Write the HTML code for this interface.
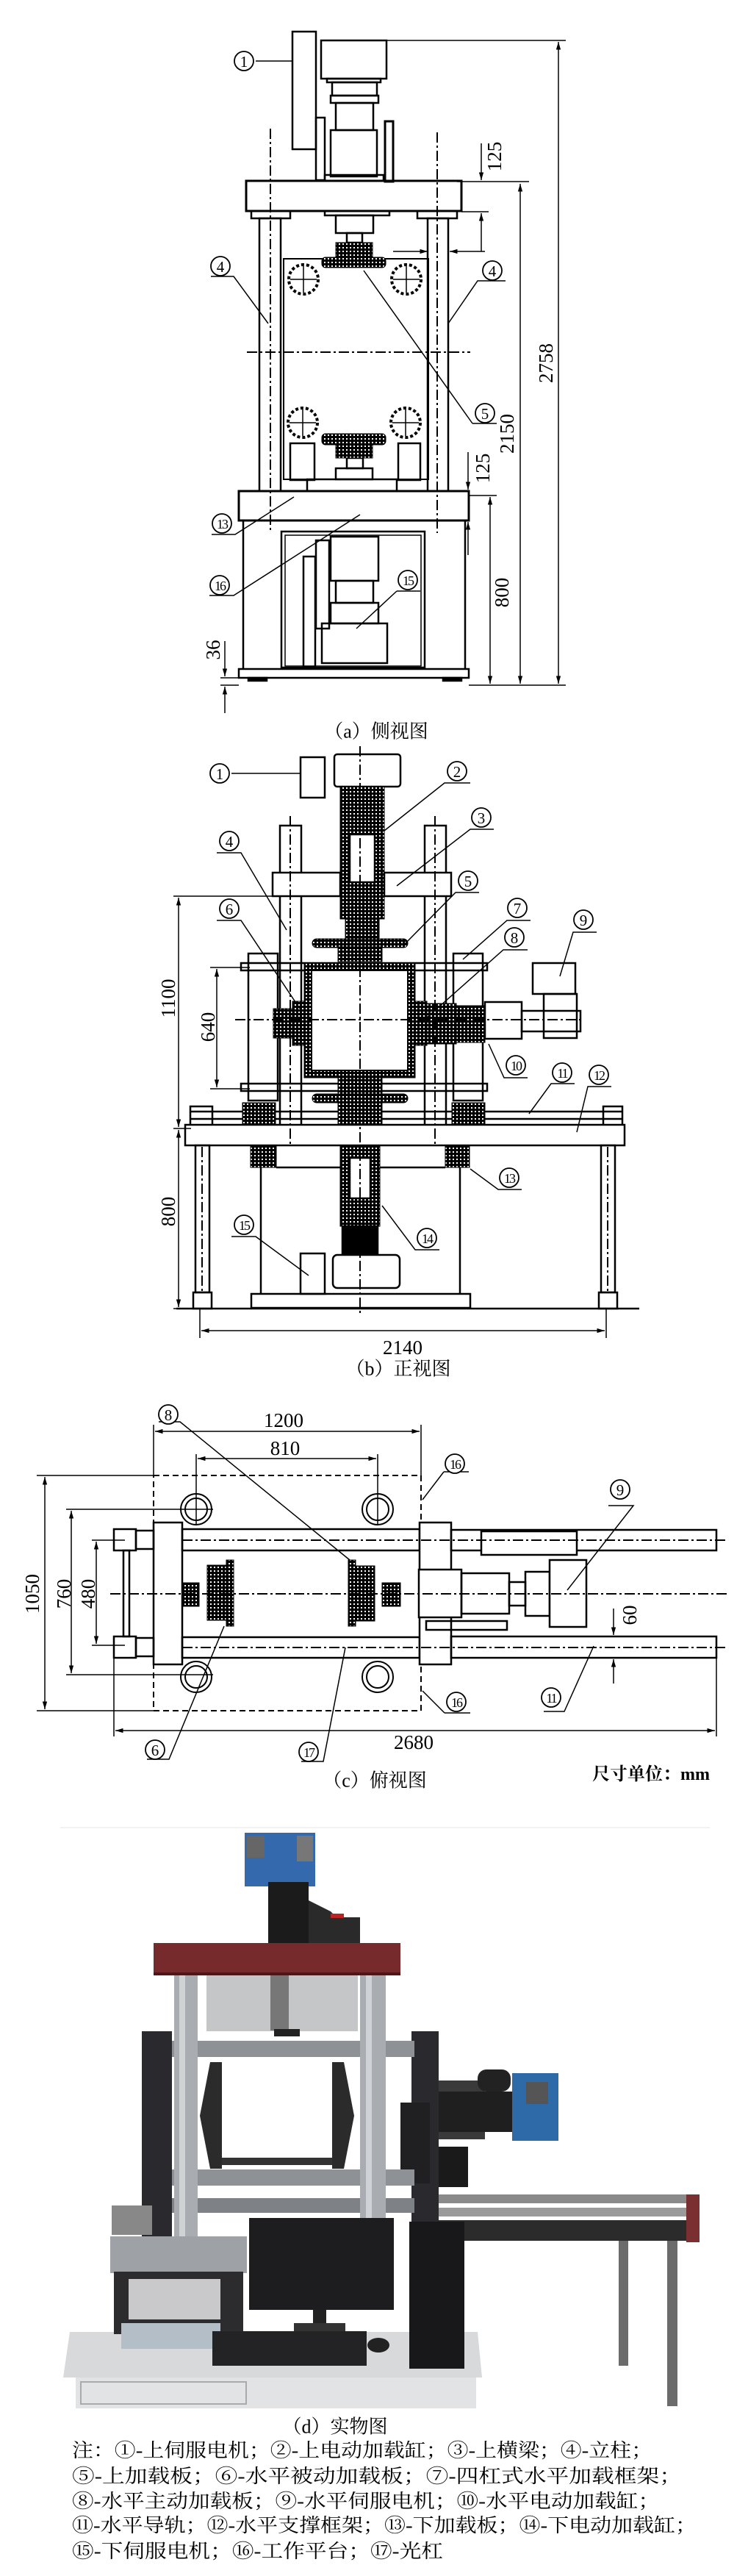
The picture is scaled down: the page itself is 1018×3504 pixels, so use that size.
<!DOCTYPE html>
<html><head><meta charset="utf-8">
<style>
html,body{margin:0;padding:0;background:#fff;}
svg{display:block;}
.t{font-family:"Liberation Serif","Noto Serif CJK SC",serif;fill:#000;}
.n{font-family:"Liberation Serif",serif;font-size:21px;fill:#000;text-anchor:middle;dominant-baseline:central;}
.ci{fill:#fff;stroke:#000;stroke-width:1.8;}
.d{font-family:"Liberation Serif",serif;font-size:27px;fill:#000;text-anchor:middle;dominant-baseline:central;}
.cap{font-family:"Liberation Serif","Noto Serif CJK SC",serif;font-size:26px;fill:#000;text-anchor:middle;dominant-baseline:central;}
</style></head><body>
<svg width="1018" height="3504" viewBox="0 0 1018 3504" xmlns="http://www.w3.org/2000/svg">
<defs>
<pattern id="h" width="5" height="5" patternUnits="userSpaceOnUse"><rect width="5" height="5" fill="#000"/><rect x="1" y="1" width="2" height="2" fill="#fff"/></pattern>
<marker id="ar" viewBox="0 0 10 10" refX="10" refY="5" markerWidth="7" markerHeight="7" orient="auto-start-reverse"><path d="M0,2 L10,5 L0,8 z" fill="#000"/></marker>
</defs>

<!-- ============ VIEW A ============ -->
<g fill="none" stroke="#000" stroke-width="2.5">
<rect x="398" y="43" width="32" height="160" fill="#fff"/>
<rect x="437" y="55" width="89" height="52"/>
<rect x="445" y="107" width="73" height="5"/>
<rect x="452" y="112" width="61" height="18"/>
<rect x="450" y="130" width="65" height="10"/>
<rect x="457" y="140" width="51" height="37"/>
<rect x="450" y="177" width="63" height="63"/>
<rect x="442" y="238" width="80" height="8"/>
<rect x="430" y="160" width="12" height="85"/>
<rect x="524" y="165" width="11" height="82" stroke-width="3"/>
<rect x="335" y="246" width="293" height="41" stroke-width="3"/>
<rect x="342" y="287" width="53" height="10"/>
<rect x="568" y="287" width="54" height="10"/>
<rect x="353" y="297" width="29" height="371"/>
<rect x="582" y="297" width="28" height="371"/>
<rect x="442" y="287" width="88" height="6"/>
<rect x="457" y="293" width="51" height="24"/>
<rect x="472" y="317" width="21" height="13"/>
<rect x="386" y="352" width="197" height="300" stroke-width="2"/>
<rect x="418" y="652" width="122" height="16"/>
<rect x="457" y="637" width="50" height="15"/>
<rect x="472" y="623" width="22" height="14"/>
<rect x="325" y="668" width="313" height="40" stroke-width="3"/>
<line x1="331" y1="708" x2="331" y2="910"/>
<line x1="633" y1="708" x2="633" y2="910"/>
<rect x="383" y="723" width="195" height="185"/>
<rect x="388" y="728" width="185" height="178" stroke-width="1.5"/>
<rect x="325" y="910" width="313" height="12"/>
<rect x="338" y="922" width="25" height="4" fill="#000"/>
<rect x="603" y="922" width="25" height="4" fill="#000"/>
<rect x="438" y="848" width="89" height="54"/>
<rect x="450" y="820" width="65" height="28"/>
<rect x="457" y="790" width="51" height="30"/>
<rect x="450" y="730" width="65" height="60"/>
<rect x="413" y="757" width="16" height="150"/>
<rect x="430" y="735" width="18" height="120"/>
<rect x="395" y="603" width="33" height="50"/>
<rect x="542" y="603" width="30" height="50"/>
</g>
<g stroke="#000" fill="url(#h)" stroke-width="1">
<rect x="457" y="330" width="50" height="20"/>
<rect x="438" y="350" width="87" height="14" rx="5"/>
<rect x="438" y="590" width="87" height="15" rx="5"/>
<rect x="457" y="605" width="50" height="18"/>
</g>
<g fill="none" stroke="#000" stroke-width="4" stroke-dasharray="4 3">
<circle cx="413" cy="380" r="20"/><circle cx="553" cy="380" r="20"/>
<circle cx="412" cy="575" r="20"/><circle cx="552" cy="575" r="20"/>
</g>
<g stroke="#000" stroke-width="1.5">
<line x1="413" y1="362" x2="413" y2="398"/><line x1="395" y1="380" x2="431" y2="380"/>
<line x1="553" y1="362" x2="553" y2="398"/><line x1="535" y1="380" x2="571" y2="380"/>
<line x1="412" y1="557" x2="412" y2="593"/><line x1="394" y1="575" x2="430" y2="575"/>
<line x1="552" y1="557" x2="552" y2="593"/><line x1="534" y1="575" x2="570" y2="575"/>
</g>
<g stroke="#000" stroke-width="2" stroke-dasharray="14 4 3 4" fill="none">
<line x1="368" y1="175" x2="368" y2="725"/><line x1="595" y1="180" x2="595" y2="725"/>
<line x1="336" y1="479" x2="640" y2="479"/>
</g>
<g stroke="#000" stroke-width="1.5" fill="none">
<line x1="526" y1="55" x2="770" y2="55"/>
<line x1="760" y1="57" x2="760" y2="930" marker-start="url(#ar)" marker-end="url(#ar)"/>
<line x1="622" y1="247" x2="720" y2="247"/>
<line x1="708" y1="250" x2="708" y2="930" marker-start="url(#ar)" marker-end="url(#ar)"/>
<line x1="638" y1="674" x2="676" y2="674"/>
<line x1="667" y1="676" x2="667" y2="930" marker-start="url(#ar)" marker-end="url(#ar)"/>
<line x1="638" y1="932" x2="770" y2="932"/>
<line x1="300" y1="932" x2="325" y2="932"/>
<line x1="300" y1="922" x2="325" y2="922"/>
<line x1="655" y1="195" x2="655" y2="245" marker-end="url(#ar)"/>
<line x1="628" y1="288" x2="665" y2="288"/>
<line x1="655" y1="342" x2="655" y2="290" marker-end="url(#ar)"/>
<line x1="535" y1="342" x2="582" y2="342" marker-end="url(#ar)"/>
<line x1="660" y1="342" x2="612" y2="342" marker-end="url(#ar)"/>
<line x1="637" y1="615" x2="637" y2="666" marker-end="url(#ar)"/>
<line x1="637" y1="755" x2="637" y2="710" marker-end="url(#ar)"/>
<line x1="306" y1="872" x2="306" y2="920" marker-end="url(#ar)"/>
<line x1="306" y1="970" x2="306" y2="934" marker-end="url(#ar)"/>
<line x1="348" y1="83" x2="398" y2="83"/>
<path d="M287,376 L318,376 L365,440"/>
<path d="M688,382 L650,382 L610,440"/>
<path d="M643,576 L676,576"/><path d="M643,576 L495,368"/>
<path d="M288,727 L320,727 L400,676"/>
<path d="M285,810 L318,810 L490,700"/>
<path d="M540,804 L572,804"/><path d="M540,804 L485,855"/>
</g>
<text class="d" transform="translate(743,494) rotate(-90)">2758</text>
<text class="d" transform="translate(690,590) rotate(-90)">2150</text>
<text class="d" transform="translate(683,806) rotate(-90)">800</text>
<text class="d" transform="translate(673,213) rotate(-90)">125</text>
<text class="d" transform="translate(657,637) rotate(-90)">125</text>
<text class="d" transform="translate(290,884) rotate(-90)">36</text>
<g>
<circle class="ci" cx="332" cy="83" r="13"/><text class="n" x="332" y="84">1</text>
<circle class="ci" cx="300" cy="362" r="13"/><text class="n" x="300" y="363">4</text>
<circle class="ci" cx="670" cy="368" r="13"/><text class="n" x="670" y="369">4</text>
<circle class="ci" cx="660" cy="562" r="13"/><text class="n" x="660" y="563">5</text>
<circle class="ci" cx="302" cy="712" r="13"/><text class="n" x="302" y="713" style="font-size:18px;letter-spacing:-2px">13</text>
<circle class="ci" cx="299" cy="796" r="13"/><text class="n" x="299" y="797" style="font-size:18px;letter-spacing:-2px">16</text>
<circle class="ci" cx="555" cy="789" r="13"/><text class="n" x="555" y="790" style="font-size:18px;letter-spacing:-2px">15</text>
</g>
<text class="cap" x="512" y="995">（a）侧视图</text>

<!-- ============ VIEW B ============ -->
<g fill="none" stroke="#000" stroke-width="2.5">
<rect x="409" y="1030" width="33" height="55"/>
<rect x="455" y="1026" width="90" height="44" rx="4"/>
<rect x="463" y="1070" width="60" height="50" fill="url(#h)" stroke-width="1"/>
<rect x="463" y="1120" width="60" height="130" fill="url(#h)" stroke-width="1"/>
<rect x="476" y="1135" width="34" height="65" fill="#fff"/>
<rect x="470" y="1250" width="46" height="28" fill="url(#h)" stroke-width="1"/>
<rect x="381" y="1123" width="29" height="412"/>
<rect x="578" y="1123" width="29" height="412"/>
<rect x="371" y="1187" width="92" height="32" fill="#fff"/>
<rect x="523" y="1187" width="91" height="32" fill="#fff"/>
<rect x="338" y="1297" width="40" height="200"/>
<rect x="617" y="1297" width="40" height="200"/>
<rect x="328" y="1310" width="335" height="10"/>
<rect x="328" y="1474" width="335" height="10"/>
<rect x="414" y="1310" width="151" height="156" fill="url(#h)" stroke-width="1"/>
<rect x="424" y="1320" width="131" height="136" fill="#fff" stroke-width="2"/>
<rect x="660" y="1363" width="50" height="50"/>
<rect x="710" y="1375" width="80" height="28"/>
<rect x="725" y="1310" width="58" height="42"/>
<rect x="740" y="1352" width="45" height="60"/>
<rect x="259" y="1505" width="30" height="30"/>
<rect x="821" y="1505" width="26" height="30"/>
<line x1="259" y1="1512" x2="847" y2="1512"/>
<line x1="259" y1="1522" x2="847" y2="1522"/>
<rect x="252" y="1530" width="598" height="28" fill="#fff"/>
<rect x="266" y="1558" width="19" height="200"/>
<rect x="818" y="1558" width="19" height="200"/>
<rect x="263" y="1758" width="25" height="22"/>
<rect x="815" y="1758" width="25" height="22"/>
<line x1="376" y1="1588" x2="606" y2="1588"/>
<line x1="355" y1="1588" x2="355" y2="1760"/>
<line x1="626" y1="1588" x2="626" y2="1760"/>
<rect x="342" y="1760" width="298" height="19"/>
<line x1="240" y1="1780" x2="870" y2="1780"/>
<rect x="463" y="1558" width="54" height="110" fill="url(#h)" stroke-width="1"/>
<rect x="476" y="1575" width="28" height="55" fill="#fff"/>
<rect x="466" y="1668" width="48" height="40" fill="#000"/>
<rect x="453" y="1707" width="91" height="45" rx="6" fill="#fff"/>
<rect x="409" y="1705" width="33" height="55"/>
</g>
<g stroke="#000" fill="url(#h)" stroke-width="1">
<rect x="425" y="1277" width="130" height="12" rx="6"/>
<rect x="460" y="1288" width="60" height="20"/>
<rect x="398" y="1362" width="16" height="60"/>
<rect x="372" y="1372" width="26" height="40"/>
<rect x="565" y="1362" width="16" height="60"/>
<rect x="581" y="1365" width="40" height="55"/>
<rect x="621" y="1368" width="39" height="50"/>
<rect x="425" y="1488" width="130" height="12" rx="6"/>
<rect x="460" y="1466" width="60" height="22"/>
<rect x="460" y="1500" width="60" height="30"/>
<rect x="330" y="1500" width="45" height="30"/>
<rect x="615" y="1500" width="45" height="30"/>
<rect x="341" y="1558" width="35" height="30"/>
<rect x="606" y="1558" width="33" height="30"/>
</g>
<g stroke="#000" stroke-width="2" stroke-dasharray="14 4 3 4" fill="none">
<line x1="490" y1="1015" x2="490" y2="1790"/>
<line x1="395" y1="1110" x2="395" y2="1560"/><line x1="592" y1="1110" x2="592" y2="1560"/>
<line x1="320" y1="1387" x2="795" y2="1387"/>
<line x1="275" y1="1560" x2="275" y2="1760"/><line x1="827" y1="1560" x2="827" y2="1760"/>
</g>
<g stroke="#000" stroke-width="1.5" fill="none">
<line x1="236" y1="1219" x2="380" y2="1219"/>
<line x1="236" y1="1535" x2="260" y2="1535"/>
<line x1="236" y1="1780" x2="260" y2="1780"/>
<line x1="243" y1="1221" x2="243" y2="1533" marker-start="url(#ar)" marker-end="url(#ar)"/>
<line x1="243" y1="1537" x2="243" y2="1778" marker-start="url(#ar)" marker-end="url(#ar)"/>
<line x1="286" y1="1316" x2="340" y2="1316"/>
<line x1="286" y1="1481" x2="340" y2="1481"/>
<line x1="295" y1="1318" x2="295" y2="1479" marker-start="url(#ar)" marker-end="url(#ar)"/>
<line x1="272" y1="1780" x2="272" y2="1820"/><line x1="825" y1="1780" x2="825" y2="1820"/>
<line x1="274" y1="1810" x2="823" y2="1810" marker-start="url(#ar)" marker-end="url(#ar)"/>
<line x1="315" y1="1052" x2="409" y2="1052"/>
<path d="M640,1065 L605,1065 L523,1130"/>
<path d="M672,1128 L640,1128 L540,1205"/>
<path d="M295,1160 L328,1160 L390,1265"/>
<path d="M652,1214 L620,1214 L550,1285"/>
<path d="M295,1252 L328,1252 L408,1372"/>
<path d="M722,1252 L690,1252 L630,1305"/>
<path d="M718,1292 L685,1292 L580,1385"/>
<path d="M812,1268 L780,1268 L762,1328"/>
<path d="M718,1466 L686,1466 L665,1420"/>
<path d="M782,1474 L750,1474 L720,1515"/>
<path d="M832,1478 L800,1478 L785,1540"/>
<path d="M710,1618 L678,1618 L640,1590"/>
<path d="M598,1700 L565,1700 L520,1640"/>
<path d="M315,1682 L348,1682 L420,1735"/>
</g>
<text class="d" transform="translate(229,1358) rotate(-90)">1100</text>
<text class="d" transform="translate(283,1397) rotate(-90)">640</text>
<text class="d" transform="translate(229,1648) rotate(-90)">800</text>
<text class="d" x="548" y="1833">2140</text>
<g>
<circle class="ci" cx="299" cy="1052" r="13"/><text class="n" x="299" y="1053">1</text>
<circle class="ci" cx="622" cy="1049" r="13"/><text class="n" x="622" y="1050">2</text>
<circle class="ci" cx="655" cy="1112" r="13"/><text class="n" x="655" y="1113">3</text>
<circle class="ci" cx="312" cy="1144" r="13"/><text class="n" x="312" y="1145">4</text>
<circle class="ci" cx="637" cy="1198" r="13"/><text class="n" x="637" y="1199">5</text>
<circle class="ci" cx="312" cy="1236" r="13"/><text class="n" x="312" y="1237">6</text>
<circle class="ci" cx="704" cy="1235" r="13"/><text class="n" x="704" y="1236">7</text>
<circle class="ci" cx="700" cy="1275" r="13"/><text class="n" x="700" y="1276">8</text>
<circle class="ci" cx="794" cy="1251" r="13"/><text class="n" x="794" y="1252">9</text>
<circle class="ci" cx="702" cy="1449" r="13"/><text class="n" x="702" y="1450" style="font-size:18px;letter-spacing:-2px">10</text>
<circle class="ci" cx="765" cy="1459" r="13"/><text class="n" x="765" y="1460" style="font-size:18px;letter-spacing:-2px">11</text>
<circle class="ci" cx="815" cy="1462" r="13"/><text class="n" x="815" y="1463" style="font-size:18px;letter-spacing:-2px">12</text>
<circle class="ci" cx="693" cy="1602" r="13"/><text class="n" x="693" y="1603" style="font-size:18px;letter-spacing:-2px">13</text>
<circle class="ci" cx="581" cy="1684" r="13"/><text class="n" x="581" y="1685" style="font-size:18px;letter-spacing:-2px">14</text>
<circle class="ci" cx="332" cy="1666" r="13"/><text class="n" x="332" y="1667" style="font-size:18px;letter-spacing:-2px">15</text>
</g>
<text class="cap" x="542" y="1862">（b）正视图</text>

<!-- ============ VIEW C ============ -->
<g fill="none" stroke="#000" stroke-width="2" stroke-dasharray="8 5">
<rect x="209" y="2007" width="364" height="320"/>
</g>
<g fill="none" stroke="#000" stroke-width="2">
<circle cx="267" cy="2053" r="21"/><circle cx="267" cy="2053" r="15"/>
<circle cx="514" cy="2053" r="21"/><circle cx="514" cy="2053" r="15"/>
<circle cx="267" cy="2281" r="21"/><circle cx="267" cy="2281" r="15"/>
<circle cx="514" cy="2281" r="21"/><circle cx="514" cy="2281" r="15"/>
</g>
<g fill="none" stroke="#000" stroke-width="2.5">
<rect x="209" y="2071" width="39" height="193" fill="#fff"/>
<rect x="248" y="2080" width="323" height="29"/>
<rect x="248" y="2227" width="323" height="28"/>
<rect x="155" y="2080" width="30" height="29"/><rect x="185" y="2082" width="24" height="25"/>
<rect x="155" y="2226" width="30" height="29"/><rect x="185" y="2228" width="24" height="25"/>
<rect x="168" y="2109" width="8" height="117"/>
<rect x="571" y="2071" width="43" height="193" fill="#fff"/>
<rect x="614" y="2081" width="361" height="28"/>
<rect x="614" y="2226" width="361" height="29"/>
<rect x="655" y="2083" width="130" height="32" fill="#fff"/>
<rect x="570" y="2135" width="58" height="65" fill="#fff"/>
<rect x="628" y="2140" width="65" height="55"/>
<rect x="693" y="2152" width="22" height="32"/>
<rect x="715" y="2138" width="33" height="60"/>
<rect x="748" y="2122" width="50" height="91" fill="#fff"/>
<rect x="580" y="2205" width="110" height="12"/>
</g>
<g stroke="#000" fill="url(#h)" stroke-width="1">
<rect x="282" y="2129" width="26" height="75"/><rect x="308" y="2122" width="10" height="90"/>
<rect x="249" y="2153" width="22" height="32"/>
<rect x="474" y="2122" width="10" height="90"/><rect x="484" y="2130" width="26" height="75"/>
<rect x="520" y="2153" width="25" height="32"/>
</g>
<g stroke="#000" stroke-width="2" stroke-dasharray="14 4 3 4" fill="none">
<line x1="150" y1="2168" x2="990" y2="2168"/>
<line x1="248" y1="2095" x2="990" y2="2095"/>
<line x1="248" y1="2241" x2="990" y2="2241"/>
</g>
<g stroke="#000" stroke-width="1.5" fill="none">
<line x1="209" y1="1938" x2="209" y2="2007"/><line x1="573" y1="1938" x2="573" y2="2007"/>
<line x1="211" y1="1947" x2="571" y2="1947" marker-start="url(#ar)" marker-end="url(#ar)"/>
<line x1="267" y1="1978" x2="267" y2="2075"/><line x1="514" y1="1978" x2="514" y2="2075"/>
<line x1="269" y1="1984" x2="512" y2="1984" marker-start="url(#ar)" marker-end="url(#ar)"/>
<line x1="50" y1="2007" x2="209" y2="2007"/><line x1="50" y1="2327" x2="209" y2="2327"/>
<line x1="61" y1="2009" x2="61" y2="2325" marker-start="url(#ar)" marker-end="url(#ar)"/>
<line x1="90" y1="2053" x2="290" y2="2053"/><line x1="90" y1="2278" x2="290" y2="2278"/>
<line x1="97" y1="2055" x2="97" y2="2276" marker-start="url(#ar)" marker-end="url(#ar)"/>
<line x1="125" y1="2095" x2="170" y2="2095"/><line x1="125" y1="2238" x2="170" y2="2238"/>
<line x1="131" y1="2097" x2="131" y2="2236" marker-start="url(#ar)" marker-end="url(#ar)"/>
<line x1="155" y1="2255" x2="155" y2="2362"/><line x1="975" y1="2255" x2="975" y2="2362"/>
<line x1="157" y1="2354" x2="973" y2="2354" marker-start="url(#ar)" marker-end="url(#ar)"/>
<line x1="835" y1="2188" x2="835" y2="2224" marker-end="url(#ar)"/>
<line x1="835" y1="2290" x2="835" y2="2257" marker-end="url(#ar)"/>
<path d="M216,1934 L245,1934 L476,2122"/>
<path d="M604,2002 L638,2002"/><path d="M604,2002 L575,2040"/>
<path d="M605,2330 L640,2330"/><path d="M605,2330 L575,2300"/>
<path d="M828,2048 L862,2048 L772,2163"/>
<path d="M740,2328 L768,2328 L808,2239"/>
<path d="M200,2393 L230,2393 L305,2212"/>
<path d="M410,2396 L440,2396 L470,2241"/>
</g>
<text class="d" x="386" y="1932">1200</text>
<text class="d" x="388" y="1970">810</text>
<text class="d" transform="translate(44,2168) rotate(-90)">1050</text>
<text class="d" transform="translate(87,2168) rotate(-90)">760</text>
<text class="d" transform="translate(120,2168) rotate(-90)">480</text>
<text class="d" x="563" y="2370">2680</text>
<text class="d" transform="translate(857,2197) rotate(-90)">60</text>
<g>
<circle class="ci" cx="229" cy="1924" r="13"/><text class="n" x="229" y="1925">8</text>
<circle class="ci" cx="619" cy="1991" r="13"/><text class="n" x="619" y="1992" style="font-size:18px;letter-spacing:-2px">16</text>
<circle class="ci" cx="621" cy="2315" r="13"/><text class="n" x="621" y="2316" style="font-size:18px;letter-spacing:-2px">16</text>
<circle class="ci" cx="844" cy="2026" r="13"/><text class="n" x="844" y="2027">9</text>
<circle class="ci" cx="750" cy="2309" r="13"/><text class="n" x="750" y="2310" style="font-size:18px;letter-spacing:-2px">11</text>
<circle class="ci" cx="211" cy="2380" r="13"/><text class="n" x="211" y="2381">6</text>
<circle class="ci" cx="420" cy="2383" r="13"/><text class="n" x="420" y="2384" style="font-size:18px;letter-spacing:-2px">17</text>
</g>
<text class="cap" x="510" y="2422">（c）俯视图</text>
<text class="cap" x="886" y="2414" style="font-size:24px;font-weight:bold">尺寸单位：mm</text>

<!-- ============ PHOTO D ============ -->
<g>
<rect x="82" y="2485" width="884" height="2" fill="#f2f2f2"/>
<rect x="597" y="2985" width="355" height="12" fill="#8a8a8a"/>
<rect x="597" y="3003" width="355" height="12" fill="#9a9a9a"/>
<rect x="597" y="3020" width="355" height="28" fill="#2b2b2b"/>
<rect x="934" y="2985" width="18" height="65" fill="#7a3030"/>
<rect x="842" y="3048" width="13" height="170" fill="#6b6b6b"/>
<rect x="908" y="3048" width="14" height="225" fill="#6b6b6b"/>
<rect x="570" y="2830" width="90" height="80" fill="#3a3a3a"/>
<rect x="597" y="2845" width="100" height="55" fill="#1f1f1f"/>
<rect x="650" y="2815" width="45" height="30" rx="12" fill="#222"/>
<rect x="697" y="2820" width="63" height="92" fill="#2f6aa8"/>
<rect x="716" y="2832" width="30" height="30" fill="#555"/>
<rect x="597" y="2920" width="40" height="55" fill="#1a1a1a"/>
<rect x="333" y="2493" width="96" height="73" fill="#3469ad"/>
<rect x="336" y="2497" width="24" height="30" fill="#666"/>
<rect x="404" y="2497" width="22" height="35" fill="#777"/>
<rect x="365" y="2560" width="55" height="86" fill="#1b1b1b"/>
<polygon points="420,2585 450,2600 480,2630 480,2645 420,2645" fill="#2a2a2a"/>
<rect x="442" y="2608" width="48" height="38" fill="#2a2a2a"/>
<rect x="450" y="2603" width="18" height="6" fill="#b22"/>
<rect x="209" y="2643" width="336" height="44" fill="#772a2c"/>
<rect x="209" y="2683" width="336" height="4" fill="#4a1818"/>
<rect x="281" y="2687" width="206" height="76" fill="#c4c6c8"/>
<rect x="368" y="2687" width="25" height="75" fill="#777"/>
<rect x="373" y="2760" width="35" height="10" fill="#222"/>
<rect x="193" y="2763" width="41" height="280" fill="#2a2a2e"/>
<rect x="560" y="2763" width="37" height="270" fill="#2a2a2e"/>
<rect x="545" y="2860" width="40" height="110" fill="#202022"/>
<rect x="234" y="2776" width="330" height="22" fill="#8e9296"/>
<rect x="234" y="2951" width="330" height="22" fill="#8e9296"/>
<rect x="234" y="2990" width="330" height="20" fill="#7e8286"/>
<polygon points="286,2805 302,2805 302,2950 286,2950 272,2878" fill="#2b2b2b"/>
<polygon points="452,2805 468,2805 482,2878 468,2950 452,2950" fill="#2b2b2b"/>
<rect x="302" y="2935" width="150" height="10" fill="#333"/>
<rect x="237" y="2687" width="32" height="355" fill="#a9adb1"/>
<rect x="244" y="2687" width="8" height="355" fill="#d0d3d6"/>
<rect x="490" y="2687" width="35" height="355" fill="#a9adb1"/>
<rect x="498" y="2687" width="8" height="355" fill="#d0d3d6"/>
<rect x="152" y="3000" width="55" height="40" fill="#888"/>
<polygon points="95,3172 650,3172 656,3234 86,3234" fill="#d8d9db"/>
<rect x="103" y="3234" width="545" height="42" fill="#e2e3e5"/>
<rect x="110" y="3240" width="225" height="30" fill="none" stroke="#aaa" stroke-width="2"/>
<rect x="150" y="3042" width="186" height="50" fill="#9ea1a5"/>
<rect x="155" y="3090" width="176" height="85" fill="#2c2c2e"/>
<rect x="175" y="3100" width="125" height="55" fill="#c9c9cb"/>
<rect x="165" y="3160" width="135" height="35" fill="#b4bec6"/>
<rect x="339" y="3017" width="197" height="125" fill="#1d1d1f"/>
<rect x="426" y="3142" width="18" height="28" fill="#222"/>
<rect x="400" y="3160" width="70" height="12" fill="#333"/>
<rect x="289" y="3171" width="210" height="47" fill="#232325"/>
<ellipse cx="515" cy="3190" rx="15" ry="10" fill="#222"/>
<rect x="557" y="3022" width="75" height="200" fill="#18181a"/>
</g>
<text class="cap" x="456" y="3301">（d）实物图</text>

<g class="t" style="font-size:26px">
<text x="98" y="3342" textLength="790" lengthAdjust="spacingAndGlyphs">注：①-上伺服电机；②-上电动加载缸；③-上横梁；④-立柱；</text>
<text x="98" y="3377" textLength="830" lengthAdjust="spacingAndGlyphs">⑤-上加载板；⑥-水平被动加载板；⑦-四杠式水平加载框架；</text>
<text x="98" y="3411" textLength="800" lengthAdjust="spacingAndGlyphs">⑧-水平主动加载板；⑨-水平伺服电机；⑩-水平电动加载缸；</text>
<text x="98" y="3444" textLength="850" lengthAdjust="spacingAndGlyphs">⑪-水平导轨；⑫-水平支撑框架；⑬-下加载板；⑭-下电动加载缸；</text>
<text x="98" y="3479" textLength="505" lengthAdjust="spacingAndGlyphs">⑮-下伺服电机；⑯-工作平台；⑰-光杠</text>
</g>
</svg>
</body></html>
